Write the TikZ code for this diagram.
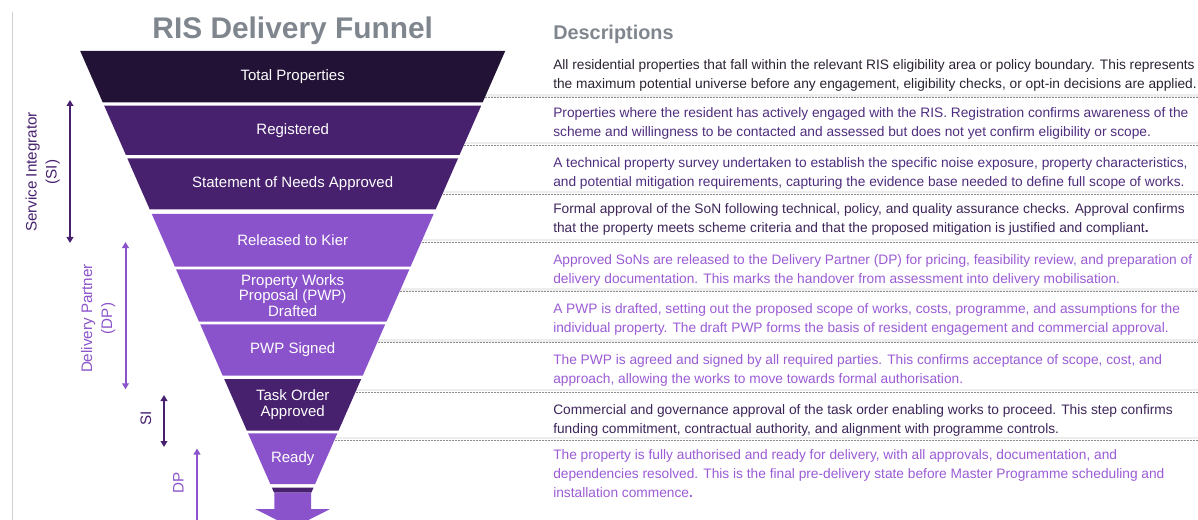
\documentclass[tikz,border=0pt]{standalone}
\usepackage{fontspec}
\setmainfont{Liberation Sans}
\usetikzlibrary{arrows.meta}

\definecolor{funTop}{HTML}{221236}
\definecolor{funDark}{HTML}{47206E}
\definecolor{funLight}{HTML}{8B53CB}
\definecolor{headGrey}{HTML}{7F868E}
\definecolor{txtBlack}{HTML}{2B2233}
\definecolor{txtPlum}{HTML}{4E2D7E}
\definecolor{txtDeep}{HTML}{3D2559}
\definecolor{txtLilac}{HTML}{9A5BD5}
\definecolor{ruleGrey}{HTML}{8C8C8C}

\tikzset{
  band label/.style={text=white, align=center, inner sep=0pt, font=\fontsize{11.25}{11.6}\selectfont},
  desc/.style={anchor=base west, align=left, inner sep=0pt, font=\fontsize{10.3}{14.25}\selectfont},
  sep line/.style={ruleGrey, line width=0.6pt, dash pattern=on 1.5pt off 0.75pt},
  sep shade/.style={black!7, line width=1.8pt},
  side label/.style={rotate=90, align=center, inner sep=0pt, font=\fontsize{11.4}{15}\selectfont},
  spanarrow/.style={line width=1.5pt, {Triangle[length=4.5pt,width=5pt]}-{Triangle[length=4.5pt,width=5pt]}},
}

\begin{document}
\begin{tikzpicture}[x=0.75pt,y=0.75pt,yscale=-1,xscale=1]
\useasboundingbox (0,0) rectangle (1198,520);
\clip (0,0) rectangle (1198,520);
\coordinate (rim) at (1198,0);

% Rule on the left margin
\coordinate (mTop) at (12.7,11.7);
\coordinate (mBot) at (12.7,520);
\draw [color={rgb, 255:red, 208; green, 208; blue, 208 }, line width=1.1pt] (mTop) -- (mBot);

% Text Node
\node [text=headGrey, font=\bfseries\fontsize{22.4}{24}\selectfont, anchor=base, inner sep=0pt] (title) at (292.7,38.3) {RIS Delivery Funnel};
% Text Node
\node [text=headGrey, font=\bfseries\fontsize{14.9}{16}\selectfont, anchor=base west, inner sep=0pt] (descHead) at (553,40) {Descriptions};

% Connection
\coordinate (e1) at (482,97.7);
\coordinate (e2) at (461,145);
\coordinate (e3) at (439.5,194.3);
\coordinate (e4) at (418.5,242.3);
\coordinate (e5) at (396.5,291.7);
\coordinate (e6) at (374.5,342.7);
\coordinate (e7) at (352.5,392.3);
\coordinate (e8) at (331.5,440);
\draw [sep shade] ([yshift=-1.6pt]e1) -- ([yshift=-1.6pt]e1 -| rim);
\draw [sep shade] ([yshift=-1.6pt]e2) -- ([yshift=-1.6pt]e2 -| rim);
\draw [sep shade] ([yshift=-1.6pt]e3) -- ([yshift=-1.6pt]e3 -| rim);
\draw [sep shade] ([yshift=-1.6pt]e4) -- ([yshift=-1.6pt]e4 -| rim);
\draw [sep shade] ([yshift=-1.6pt]e5) -- ([yshift=-1.6pt]e5 -| rim);
\draw [sep shade] ([yshift=-1.6pt]e6) -- ([yshift=-1.6pt]e6 -| rim);
\draw [sep shade] ([yshift=-1.6pt]e7) -- ([yshift=-1.6pt]e7 -| rim);
\draw [sep shade] ([yshift=-1.6pt]e8) -- ([yshift=-1.6pt]e8 -| rim);
\draw [sep line] (e1) -- (e1 -| rim);
\draw [sep line] (e2) -- (e2 -| rim);
\draw [sep line] (e3) -- (e3 -| rim);
\draw [sep line] (e4) -- (e4 -| rim);
\draw [sep line] (e5) -- (e5 -| rim);
\draw [sep line] (e6) -- (e6 -| rim);
\draw [sep line] (e7) -- (e7 -| rim);
\draw [sep line] (e8) -- (e8 -| rim);

% Funnel bands
\fill [funTop]   (80.2,51) -- (505.2,51) -- (482.7,102.3) -- (102.7,102.3) -- cycle;
\fill [funDark]  (104.2,105.7) -- (481.2,105.7) -- (459.5,155) -- (125.9,155) -- cycle;
\fill [funDark]  (127.3,158.3) -- (458.1,158.3) -- (435.7,209.3) -- (149.7,209.3) -- cycle;
\fill [funLight] (151.8,214) -- (433.6,214) -- (410.5,266.7) -- (174.9,266.7) -- cycle;
\fill [funLight] (176,269.3) -- (409.4,269.3) -- (386.4,321.7) -- (199,321.7) -- cycle;
\fill [funLight] (200.2,324.3) -- (385.2,324.3) -- (362.7,375.7) -- (222.7,375.7) -- cycle;
\fill [funDark]  (224.2,379) -- (361.2,379) -- (338.5,430.7) -- (246.9,430.7) -- cycle;
\fill [funLight] (248,433.3) -- (337.4,433.3) -- (315.1,484) -- (270.3,484) -- cycle;
\fill [funDark]  (271.9,487.7) -- (313.5,487.7) -- (311.3,492.7) -- (274.1,492.7) -- cycle;
% Outlet arrow
\fill [funLight] (274.3,492.7) -- (311.1,492.7) -- (311.1,509) -- (330.2,509) -- (292.7,528) -- (255.2,509) -- (274.3,509) -- cycle;

% Text Node
\node [band label] (total) at (292.7,76.7) {Total Properties};
% Text Node
\node [band label] (registered) at (292.7,130.4) {Registered};
% Text Node
\node [band label] (son) at (292.7,183.8) {Statement of Needs Approved};
% Text Node
\node [band label] (released) at (292.7,240.4) {Released to Kier};
% Text Node
\node [band label] (pwpDraft) at (292.7,295.5) {Property Works\\Proposal (PWP)\\Drafted};
% Text Node
\node [band label] (pwpSigned) at (292.7,350) {PWP Signed};
% Text Node
\node [band label] (taskOrder) at (292.7,404.5) {Task Order\\Approved};
% Text Node
\node [band label] (ready) at (292.7,458.7) {Ready};

% Connection
\coordinate (siTop) at (70,100);
\coordinate (siBot) at (70,243);
\draw [spanarrow, funDark] (siTop) -- (siBot);
% Text Node
\node [side label, text=funDark] (siLabel) at (42.7,172) {Service Integrator\\(SI)};
% Connection
\coordinate (dpTop) at (125.5,242);
\coordinate (dpBot) at (125.5,389.3);
\draw [spanarrow, funLight] (dpTop) -- (dpBot);
% Text Node
\node [side label, text=funLight] (dpLabel) at (98.3,318.5) {Delivery Partner\\(DP)};
% Connection
\coordinate (siTopB) at (164,395);
\coordinate (siBotB) at (164,447);
\draw [spanarrow, funDark] (siTopB) -- (siBotB);
% Text Node
\node [side label, text=funDark] (siShort) at (146,418.3) {SI};
% Connection
\coordinate (dpTopB) at (197,448.5);
\coordinate (dpBotB) at (197,530);
\draw [spanarrow, funLight] (dpTopB) -- (dpBotB);
% Text Node
\node [side label, text=funLight] (dpShort) at (178.3,483.3) {DP};

% Text Node (base anchor sits on the last line)
\node [desc, text=txtBlack] (dTotal) at (553,89) {All residential properties that fall within the relevant RIS eligibility area or policy boundary. This represents\\the maximum potential universe before any engagement, eligibility checks, or opt-in decisions are applied.};
% Text Node
\node [desc, text=txtPlum] (dRegistered) at (553,137) {Properties where the resident has actively engaged with the RIS. Registration confirms awareness of the\\scheme and willingness to be contacted and assessed but does not yet confirm eligibility or scope.};
% Text Node
\node [desc, text=txtPlum] (dSon) at (553,186.5) {A technical property survey undertaken to establish the specific noise exposure, property characteristics,\\and potential mitigation requirements, capturing the evidence base needed to define full scope of works.};
% Text Node
\node [desc, text=txtDeep] (dReleased) at (553,233) {Formal approval of the SoN following technical, policy, and quality assurance checks. Approval confirms\\that the property meets scheme criteria and that the proposed mitigation is justified and compliant\textbf{.}};
% Text Node
\node [desc, text=txtLilac] (dPwpDraft) at (553,283.5) {Approved SoNs are released to the Delivery Partner (DP) for pricing, feasibility review, and preparation of\\delivery documentation. This marks the handover from assessment into delivery mobilisation.};
% Text Node
\node [desc, text=txtLilac] (dPwpSigned) at (553,332.5) {A PWP is drafted, setting out the proposed scope of works, costs, programme, and assumptions for the\\individual property. The draft PWP forms the basis of resident engagement and commercial approval.};
% Text Node
\node [desc, text=txtLilac] (dTaskOrder) at (553,383.5) {The PWP is agreed and signed by all required parties. This confirms acceptance of scope, cost, and\\approach, allowing the works to move towards formal authorisation.};
% Text Node
\node [desc, text=txtDeep] (dCommercial) at (553,433.5) {Commercial and governance approval of the task order enabling works to proceed. This step confirms\\funding commitment, contractual authority, and alignment with programme controls.};
% Text Node
\node [desc, text=txtLilac] (dReady) at (553,497.5) {The property is fully authorised and ready for delivery, with all approvals, documentation, and\\dependencies resolved. This is the final pre-delivery state before Master Programme scheduling and\\installation commence\textbf{.}};

\end{tikzpicture}
\end{document}
